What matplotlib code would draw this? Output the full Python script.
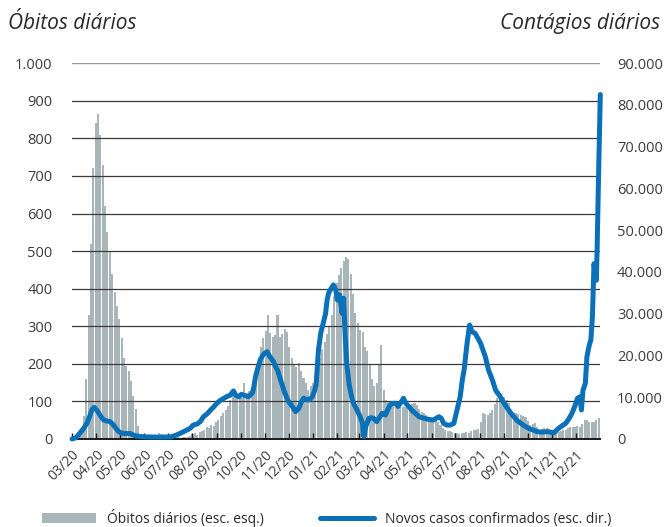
import numpy as np
import pandas as pd
import matplotlib
matplotlib.use("Agg")
import matplotlib.pyplot as plt
from matplotlib.patches import Patch
from matplotlib.lines import Line2D
from matplotlib.ticker import FuncFormatter

# dados (dias contados a partir de 01/03/2020)
start = pd.Timestamp("2020-03-01")

# óbitos diários, um valor a cada 3 dias
death_values = [
    0, 0, 2, 5, 15, 60, 160, 330, 520, 720, 840, 865, 810, 730, 620, 550,
    500, 440, 390, 355, 320, 270, 215, 195, 180, 155, 115, 80, 35, 8,
    3, 2, 3, 2, 3, 4, 5, 15, 12, 4, 3, 3, 4, 3, 3, 4, 3, 5, 6, 5,
    8, 12, 15, 10, 18, 22, 25, 33, 30, 38, 35, 45, 50, 60, 68, 78, 88, 104, 118, 112,
    112, 115, 110, 150, 122, 128, 135, 155, 185, 215, 245, 270, 288, 330, 282, 272, 278, 330, 272, 280,
    292, 285, 245, 215, 200, 192, 202, 180, 162, 150, 130, 140, 150, 166, 190, 215, 240, 258, 280, 300,
    330, 380, 415, 436, 455, 475, 485, 480, 440, 385, 335, 310, 290, 285, 245, 235, 200, 160, 140, 148,
    200, 250, 130, 105, 98, 95, 92, 90, 88, 86, 85, 86, 86, 88, 92, 95, 90, 80, 72, 68,
    65, 58, 55, 50, 48, 45, 38, 30, 25, 22, 20, 18, 16, 15, 14, 16, 15, 18, 16, 20,
    24, 25, 26, 45, 68, 66, 64, 70, 78, 92, 110, 120, 112, 112, 105, 95, 75, 68, 69, 66,
    64, 62, 59, 48, 38, 40, 42, 32, 25, 26, 28, 29, 26, 24, 24, 22, 19, 21, 24, 24,
    28, 33, 33, 33, 34, 33, 40, 50, 50, 46, 46, 46, 50, 56,
]
death_step = 3

# novos casos confirmados
case_days = [
    0, 5, 10, 15, 19, 22, 25, 28, 31, 34, 37, 40, 44, 48, 52, 56, 59, 63, 68, 74,
    80, 86, 95, 110, 125, 132, 138, 146, 150, 154, 159, 163, 167, 172, 176, 180, 184, 188, 193, 197,
    201, 205, 208, 212, 215, 218, 221, 224, 227, 229, 231, 233, 236, 239, 242, 245, 248, 251, 253, 256,
    258, 261, 265, 269, 273, 276, 280, 284, 288, 291, 294, 298, 301, 305, 308, 310, 313, 316, 318, 322,
    324, 326, 329, 332, 335, 337, 340, 343, 345, 347, 349, 352, 356, 359, 362, 366, 369, 370, 371, 373,
    377, 380, 383, 387, 390, 394, 398, 401, 404, 407, 411, 414, 417, 421, 424, 428, 432, 436, 441, 447,
    453, 459, 463, 466, 469, 472, 476, 480, 485, 489, 491, 493, 496, 498, 500, 502, 505, 508, 512, 515,
    519, 522, 525, 529, 534, 538, 544, 548, 553, 557, 561, 565, 570, 575, 580, 586, 591, 597, 604, 612,
    615, 618, 622, 627, 631, 635, 639, 642, 645, 647, 649, 652, 654, 657, 659, 661, 663, 665, 666, 667,
    668, 669, 670, 671,
]
case_values = [
    0, 300, 1400, 2600, 3800, 5200, 6900, 7600, 7000, 6200, 5300, 4600, 4300, 4200, 3500, 2500, 1800, 1400, 1300, 1300,
    800, 600, 500, 450, 500, 900, 1400, 2150, 2550, 3350, 3600, 4200, 5350, 6100, 6950, 7700, 8550, 9200, 9750, 10200,
    10500, 11500, 10500, 10100, 10700, 10500, 10300, 10100, 10600, 11000, 12500, 14900, 17000, 18900, 20000, 20600, 20900, 19800, 19300, 18500,
    17500, 16500, 14100, 11700, 9750, 8700, 7750, 6550, 7350, 8800, 9750, 9500, 9350, 10100, 11500, 13000, 21300, 25500, 26900, 30000,
    33300, 35000, 36000, 36900, 35700, 33300, 34500, 30100, 33700, 24500, 18000, 13000, 9350, 8000, 6950, 5350, 3750, 800, 600, 2950,
    4950, 5100, 4950, 4150, 5000, 6150, 5750, 7000, 8150, 8500, 8550, 7800, 8550, 9750, 8500, 7750, 6800, 6150, 5300, 4950,
    4700, 4550, 5000, 5350, 4950, 3750, 3350, 3300, 3750, 6950, 8500, 10100, 14500, 16500, 20000, 23300, 27300, 25700, 25300, 24300,
    22900, 21300, 19700, 16500, 14100, 11700, 10100, 8800, 7350, 6300, 5350, 4500, 3750, 3100, 2550, 2100, 1750, 1650, 1750, 1500,
    2000, 2550, 3100, 3750, 4800, 6150, 8000, 9750, 10100, 6950, 11700, 13300, 19700, 22500, 23700, 29300, 42000, 39000, 38000, 46000,
    56000, 65000, 74000, 82500,
]

month_labels = [
    "03/20", "04/20", "05/20", "06/20", "07/20", "08/20", "09/20", "10/20",
    "11/20", "12/20", "01/21", "02/21", "03/21", "04/21", "05/21", "06/21",
    "07/21", "08/21", "09/21", "10/21", "11/21", "12/21",
]

bar_color = "#a9b6b9"
line_color = "#0a70b8"
text_color = "#3c3c3c"

plt.rcParams["font.family"] = ["Open Sans", "DejaVu Sans"]

death_dates = start + pd.to_timedelta(np.arange(len(death_values)) * death_step, unit="D")
case_dates = start + pd.to_timedelta(case_days, unit="D")
month_ticks = pd.date_range("2020-03-01", periods=len(month_labels), freq="MS")

fig = plt.figure(figsize=(6.67, 5.27), dpi=100)
ax = fig.add_axes([0.108, 0.167, 0.792, 0.713])
ax2 = ax.twinx()

ax.bar(death_dates, death_values, width=2.6, color=bar_color, linewidth=0, zorder=1)

for v in range(100, 1000, 100):
    ax.axhline(v, color="#3a3a3a", lw=0.9, zorder=2)
ax.axhline(1000, color="#9a9a9a", lw=1.0, zorder=2)

ax2.plot(case_dates, case_values, color=line_color, lw=3.6,
         solid_capstyle="round", solid_joinstyle="round", clip_on=False)

ax.set_xlim(start, pd.Timestamp("2022-01-01"))
ax.set_ylim(0, 1000)
ax2.set_ylim(0, 90000)

thousands = FuncFormatter(lambda v, p: f"{int(v):,}".replace(",", "."))
ax.set_yticks(range(0, 1001, 100))
ax.yaxis.set_major_formatter(thousands)
ax2.set_yticks(range(0, 90001, 10000))
ax2.yaxis.set_major_formatter(thousands)

ax.set_xticks(month_ticks)
ax.set_xticklabels(month_labels, rotation=45, ha="right", va="top",
                   rotation_mode="anchor")

for a in (ax, ax2):
    for s in ("top", "left", "right"):
        a.spines[s].set_visible(False)
ax2.spines["bottom"].set_visible(False)
ax.spines["bottom"].set_color("#1a1a1a")
ax.spines["bottom"].set_linewidth(1.4)
ax.spines["bottom"].set_zorder(3)

ax.tick_params(axis="y", length=0, pad=14, labelsize=10.5, labelcolor=text_color)
ax2.tick_params(axis="y", length=0, pad=12, labelsize=10.5, labelcolor=text_color)
ax.tick_params(axis="x", direction="in", length=4, width=1, color="#1a1a1a",
               pad=6, labelsize=10, labelcolor=text_color)

fig.text(0.012, 0.955, "Óbitos diários", fontsize=15, style="italic",
         color="#2a2a2a", va="center", ha="left")
fig.text(0.99, 0.955, "Contágios diários", fontsize=15, style="italic",
         color="#2a2a2a", va="center", ha="right")

handles = [
    Patch(facecolor=bar_color, edgecolor="none"),
    Line2D([0], [0], color=line_color, lw=3.6, solid_capstyle="round"),
]
fig.legend(handles, ["Óbitos diários (esc. esq.)", "Novos casos confirmados (esc. dir.)"],
           loc="center", bbox_to_anchor=(0.49, 0.018), ncol=2, frameon=False,
           fontsize=10, handlelength=3.9, handleheight=0.7, columnspacing=4.0,
           labelcolor="#2a2a2a")

fig.savefig("out.png", dpi=100)
